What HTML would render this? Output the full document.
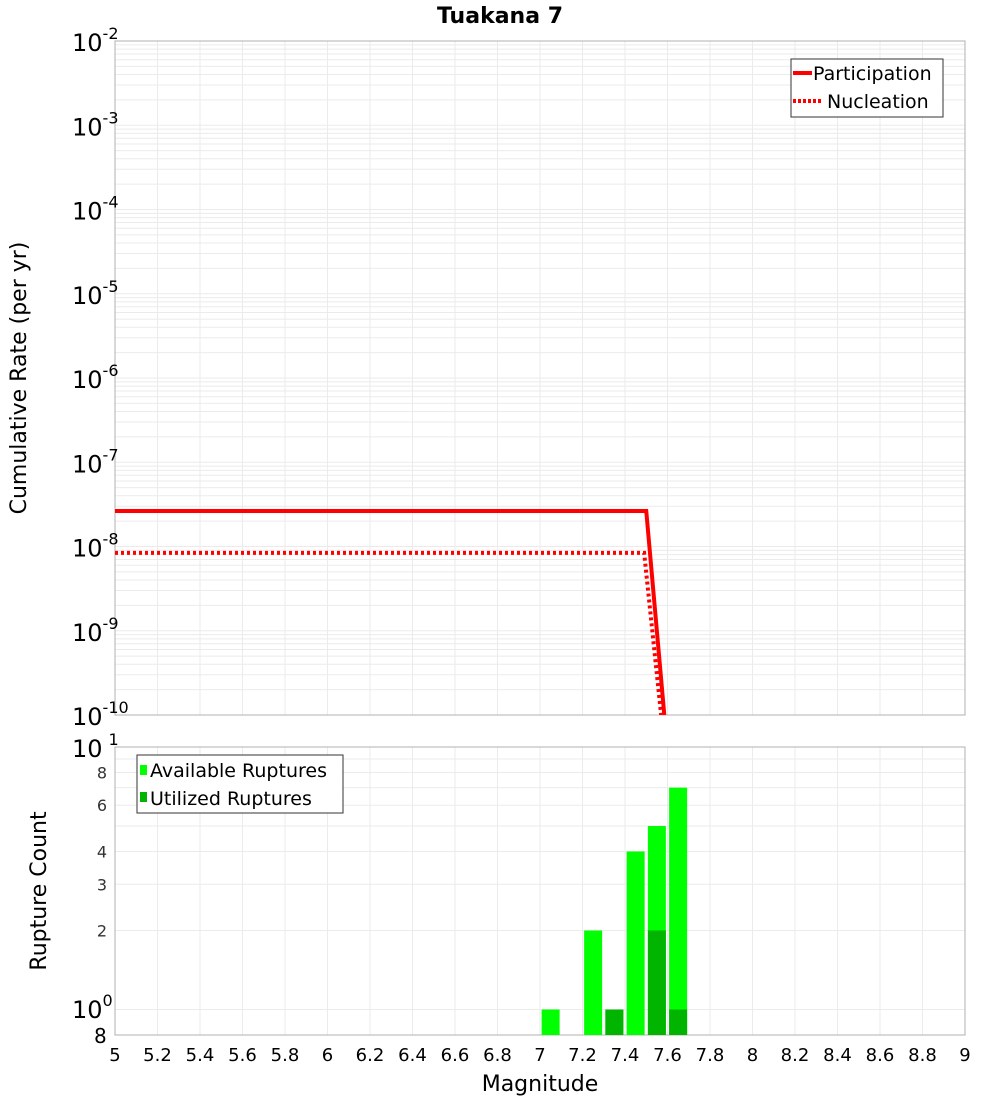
<!DOCTYPE html>
<html><head><meta charset="utf-8"><style>
body{margin:0;background:#fff;font-family:"Liberation Sans","DejaVu Sans",sans-serif}
</style></head><body>
<svg id="c" width="1000" height="1100" xmlns="http://www.w3.org/2000/svg" font-family="DejaVu Sans, Liberation Sans, sans-serif">
<defs><clipPath id="ct"><rect x="115" y="41" width="850" height="674"/></clipPath>
<clipPath id="cb"><rect x="115" y="747" width="850" height="288"/></clipPath></defs>
<text x="500" y="23" text-anchor="middle" font-size="22" font-weight="bold">Tuakana 7</text>
<g id="topg"></g><g id="botg"></g>
<text transform="translate(26,378) rotate(-90)" text-anchor="middle" font-size="22">Cumulative Rate (per yr)</text>
<text transform="translate(46,891) rotate(-90)" text-anchor="middle" font-size="22">Rupture Count</text>
<text x="540" y="1091" text-anchor="middle" font-size="22">Magnitude</text>
</svg>
<script>
const partMag=[5,7.5,7.585];
const partRate=[2.64e-8,2.64e-8,1e-10];
const nuclMag=[5,7.49,7.57];
const nuclRate=[8.4e-9,8.4e-9,1e-10];
const availMag=[7.05,7.25,7.35,7.45,7.55,7.65];
const availCount=[1,2,1,4,5,7];
const utilMag=[7.35,7.55,7.65];
const utilCount=[1,2,1];
const xTicks=[5,5.2,5.4,5.6,5.8,6,6.2,6.4,6.6,6.8,7,7.2,7.4,7.6,7.8,8,8.2,8.4,8.6,8.8,9];
const topExps=[-2,-3,-4,-5,-6,-7,-8,-9,-10];
const botTicks=[2,3,4,6,8];

const NS='http://www.w3.org/2000/svg';
const X=m=>115+(m-5)*212.5;
const YT=v=>41+(-2-Math.log10(v))*84.25;
const YB=v=>1009.5-Math.log10(v)*262.5;
function mk(p,t,a){const e=document.createElementNS(NS,t);for(const k in a)e.setAttribute(k,a[k]);p.appendChild(e);return e;}
const topG=document.getElementById('topg'),botG=document.getElementById('botg');
for(let d=-10;d<-2;d++)for(let k=1;k<10;k++){const y=YT(k*Math.pow(10,d));const l=mk(topG,'line',{x1:115,x2:965,y1:y,y2:y,stroke:'#ebebeb'});

}
for(const t of xTicks){for(const [g,y1,y2] of [[topG,41,715],[botG,747,1035]]){const l=mk(g,'line',{x1:X(t),x2:X(t),y1:y1,y2:y2,stroke:'#ebebeb'});

}}
for(let k=1;k<=10;k++){const y=YB(k);const l=mk(botG,'line',{x1:115,x2:965,y1:y,y2:y,stroke:'#ebebeb'});

}
let r=mk(topG,'rect',{x:115,y:41,width:850,height:674,fill:'none',stroke:'#b0b0b0'});


r=mk(botG,'rect',{x:115,y:747,width:850,height:288,fill:'none',stroke:'#b0b0b0'});


function pts(ms,vs){return ms.map((m,i)=>X(m)+','+YT(vs[i])).join(' ');}
let pl=mk(topG,'polyline',{points:pts(partMag,partRate),fill:'none',stroke:'#ff0000','stroke-width':4,'clip-path':'url(#ct)'});


pl=mk(topG,'polyline',{points:pts(nuclMag,nuclRate),fill:'none',stroke:'#ff0000','stroke-width':4,'stroke-dasharray':'3 3','clip-path':'url(#ct)'});


for(const e of topExps){const t=mk(topG,'text',{x:72,y:YT(Math.pow(10,e))+10,'font-size':24});


t.textContent='10';const s=mk(t,'tspan',{dy:-12,'font-size':16});s.textContent=String(e);}
const bw=18;
availMag.forEach((m,i)=>{const y=YB(availCount[i]);const b=mk(botG,'rect',{x:X(m)-bw/2,y:y,width:bw,height:1035-y,fill:'#00ff00','clip-path':'url(#cb)'});

});
utilMag.forEach((m,i)=>{const y=YB(utilCount[i]);const b=mk(botG,'rect',{x:X(m)-bw/2,y:y,width:bw,height:1035-y,fill:'#00b400','clip-path':'url(#cb)'});

});
let t=mk(botG,'text',{x:72,y:757,'font-size':24});t.textContent='10';


let s=mk(t,'tspan',{dx:6,dy:-12,'font-size':16});s.textContent='1';
t=mk(botG,'text',{x:72,y:1018,'font-size':24});t.textContent='10';


s=mk(t,'tspan',{dy:-12,'font-size':16});s.textContent='0';
t=mk(botG,'text',{x:94,y:1043,'font-size':20});t.textContent='8';


for(const v of botTicks){t=mk(botG,'text',{x:107,y:YB(v)+6,'font-size':16,'text-anchor':'end',fill:'#333'});t.textContent=String(v);

}
for(const v of xTicks){t=mk(botG,'text',{x:X(v),y:1061,'font-size':18,'text-anchor':'middle'});t.textContent=String(v);

}
let lg=mk(topG,'g',{});


mk(lg,'rect',{x:791,y:59,width:152,height:58,fill:'#fff',stroke:'#333'});
mk(lg,'line',{x1:793,x2:812,y1:73,y2:73,stroke:'#f00','stroke-width':4});
mk(lg,'line',{x1:793,x2:822,y1:101,y2:101,stroke:'#f00','stroke-width':4,'stroke-dasharray':'3 2'});
t=mk(lg,'text',{x:813,y:80,'font-size':19});t.textContent='Participation';
t=mk(lg,'text',{x:827,y:108,'font-size':19});t.textContent='Nucleation';
lg=mk(botG,'g',{});


mk(lg,'rect',{x:137,y:755,width:206,height:58,fill:'#fff',stroke:'#333'});
mk(lg,'rect',{x:140,y:765,width:7,height:10,fill:'#00ff00'});
mk(lg,'rect',{x:140,y:792,width:7,height:10,fill:'#00b400'});
t=mk(lg,'text',{x:150,y:777,'font-size':19});t.textContent='Available Ruptures';
t=mk(lg,'text',{x:150,y:805,'font-size':19});t.textContent='Utilized Ruptures';
</script>
</body></html>
